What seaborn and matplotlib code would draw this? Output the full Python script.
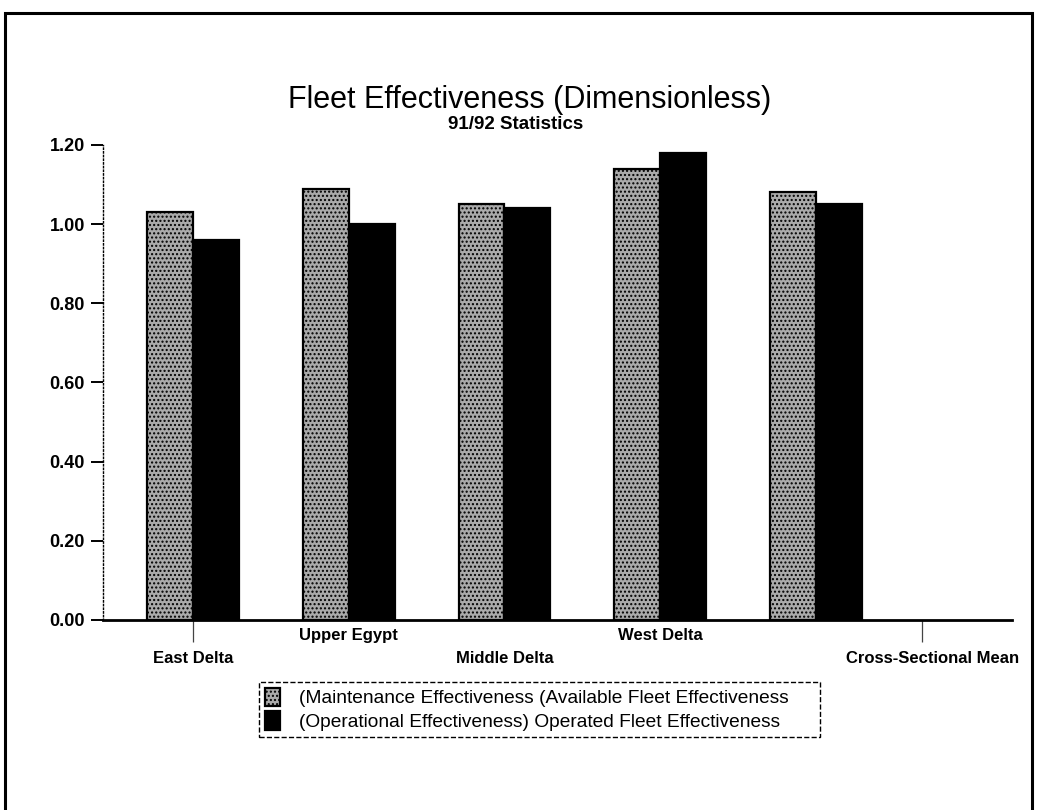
import matplotlib
matplotlib.use("Agg")
import matplotlib.pyplot as plt
from matplotlib.patches import Rectangle
import seaborn as sns
import pandas as pd

regions = ["East Delta", "Upper Egypt", "Middle Delta", "West Delta", "Cross-Sectional Mean"]
maintenance = [1.03, 1.09, 1.05, 1.14, 1.08]
operational = [0.96, 1.00, 1.04, 1.18, 1.05]
series_names = [
    "(Maintenance Effectiveness (Available Fleet Effectiveness",
    "(Operational Effectiveness) Operated Fleet Effectiveness",
]
y_ticks = [0.0, 0.2, 0.4, 0.6, 0.8, 1.0, 1.2]

df = pd.DataFrame({
    "region": regions * 2,
    "value": maintenance + operational,
    "measure": [series_names[0]] * len(regions) + [series_names[1]] * len(regions),
})

sns.set_style("white")
plt.rcParams["font.family"] = ["Liberation Sans", "DejaVu Sans"]
plt.rcParams["hatch.linewidth"] = 1.0
plt.rcParams["text.color"] = "black"
plt.rcParams["xtick.color"] = "black"
plt.rcParams["ytick.color"] = "black"

fig = plt.figure(figsize=(10.37, 8.10), dpi=100)
ax = fig.add_axes([0.0993, 0.2346, 0.8767, 0.5864])

sns.barplot(data=df, x="region", y="value", hue="measure",
            palette=["#aaaaaa", "#000000"], width=0.59, saturation=1,
            edgecolor="black", linewidth=1.6, ax=ax, legend=False)

for bar in ax.containers[0]:
    bar.set_hatch("....")

ax.set_xlim(-0.578, 5.26)
ax.set_ylim(0, 1.2)
ax.set_xlabel("")
ax.set_ylabel("")

# y axis: dotted spine with outward ticks
ax.set_yticks(y_ticks)
ax.set_yticklabels([f"{v:.2f}" for v in y_ticks], fontsize=13, fontweight="bold")
ax.tick_params(axis="y", direction="out", length=9, width=1.4, color="black", pad=4,
               left=True, labelcolor="black")
ax.spines["left"].set_linestyle(":")
ax.spines["left"].set_linewidth(1.0)
ax.spines["left"].set_color("black")
ax.spines["bottom"].set_linewidth(2.0)
ax.spines["bottom"].set_color("black")
for s in ("top", "right"):
    ax.spines[s].set_visible(False)

# x axis: staggered category labels
tick_pos = [0, 1, 2, 3, 4.75]
ax.set_xticks(tick_pos)
ax.set_xticklabels(regions, fontsize=12, fontweight="bold", color="black")
ax.tick_params(axis="x", which="major", length=0, bottom=True)
for i, t in enumerate(ax.xaxis.get_major_ticks()):
    t.set_pad(22 if i % 2 == 0 else 6)
ax.xaxis.remove_overlapping_locs = False
ax.set_xticks([0, 4.68], minor=True)
ax.tick_params(axis="x", which="minor", direction="out", length=16, width=0.9,
               color="#444444", bottom=True)

# titles
fig.text(0.511, 0.877, "Fleet Effectiveness (Dimensionless)", ha="center", va="center",
         fontsize=22, color="black")
fig.text(0.497, 0.846, "91/92 Statistics", ha="center", va="center",
         fontsize=13.5, fontweight="bold", color="black")

# legend
handles = [ax.containers[0][0], ax.containers[1][0]]
leg = fig.legend(handles, series_names, loc="upper left",
                 bbox_to_anchor=(259 / 1037, 1 - 738 / 810, 561 / 1037, 56 / 810),
                 mode="expand", fontsize=13.8, frameon=True, fancybox=False,
                 handlelength=0.8, handleheight=1.1, handletextpad=1.0,
                 labelspacing=0.2, borderpad=0.3, borderaxespad=0)
frame = leg.get_frame()
frame.set_edgecolor("black")
frame.set_linestyle("--")
frame.set_linewidth(1.0)
frame.set_alpha(1)

# page border
fig.patches.append(Rectangle((0.005, -0.05), 0.99, 1.034, transform=fig.transFigure,
                             fill=False, edgecolor="black", linewidth=2.2))

fig.savefig("out.png", dpi=100, facecolor="white")
